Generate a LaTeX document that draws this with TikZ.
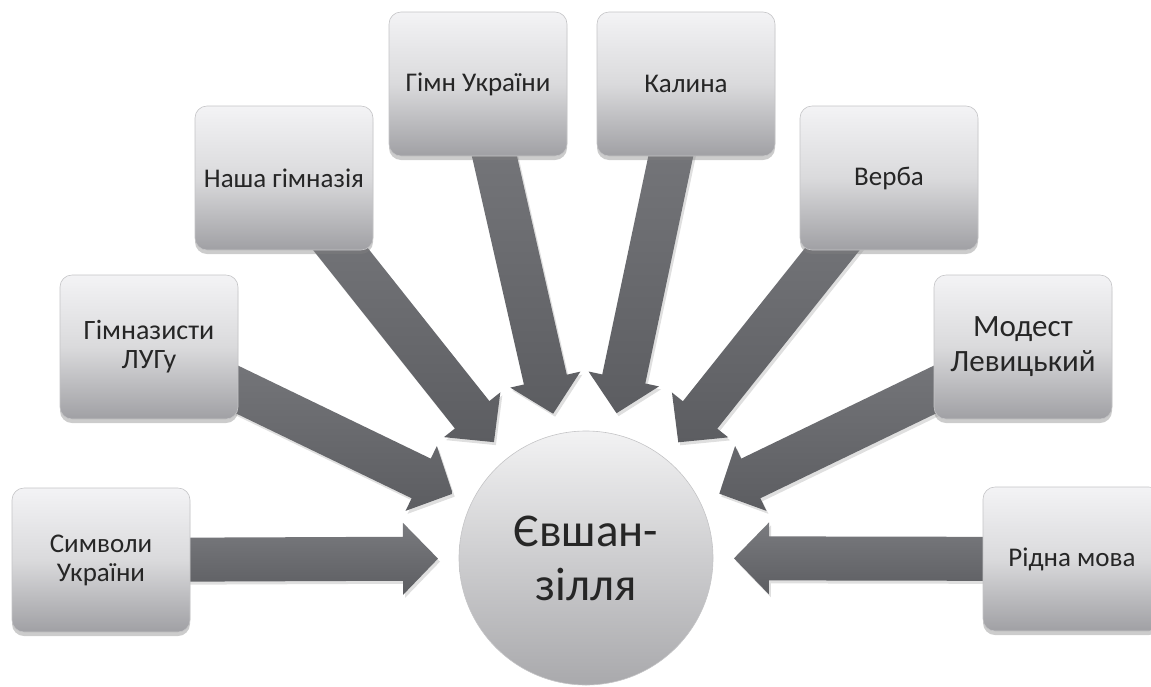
\documentclass[tikz,border=0pt]{standalone}
\usepackage{fontspec}
\setmainfont{Carlito}
\usetikzlibrary{calc,shadows,backgrounds}
\definecolor{boxtop}{HTML}{F3F3F5}
\definecolor{boxmid}{HTML}{DADADC}
\definecolor{boxbot}{HTML}{A0A0A4}
\definecolor{boxedge}{HTML}{C4C4C6}
\definecolor{hubtop}{HTML}{F2F2F3}
\definecolor{hubbot}{HTML}{A9A9AC}
\definecolor{arrtop}{HTML}{7A7B7F}
\definecolor{arrbot}{HTML}{5C5D61}
\definecolor{txt}{HTML}{262626}
\tikzset{
  box/.style={rounded corners=12pt, minimum width=178pt, minimum height=144pt,
    inner sep=2pt, align=center, font=\fontsize{27}{29}\selectfont, text=txt,
    top color=boxtop, bottom color=boxbot, middle color=boxmid,
    draw=boxedge, line width=0.6pt,
    drop shadow={opacity=0.4, shadow xshift=0pt, shadow yshift=-4pt}},
  hub/.style={circle, minimum size=254pt, inner sep=0pt, align=center,
    font=\fontsize{47}{54}\selectfont, text=txt,
    top color=hubtop, bottom color=hubbot, draw=boxedge, line width=0.6pt},
  arr/.style={top color=arrtop, bottom color=arrbot,
    drop shadow={opacity=0.25, shadow xshift=2pt, shadow yshift=-3pt}}
}
\newcommand\blockarr[2]{%
  \path[arr] ($(#1.center)!22pt!90:(#2.center)$)
    -- ($(#2.center)!183pt!(#1.center)!22pt!-90:(#1.center)$)
    -- ($(#2.center)!183pt!(#1.center)!36pt!-90:(#1.center)$)
    -- ($(#2.center)!148pt!(#1.center)$)
    -- ($(#2.center)!183pt!(#1.center)!36pt!90:(#1.center)$)
    -- ($(#2.center)!183pt!(#1.center)!22pt!90:(#1.center)$)
    -- ($(#1.center)!22pt!-90:(#2.center)$) -- cycle;}
\begin{document}
\begin{tikzpicture}[x=1pt,y=-1pt]
\useasboundingbox (0,0) rectangle (1151,686);
\node[hub] (hub) at (586,558) {Євшан-\\зілля};
\node[box] (b1) at (101,560) {Символи\\України};
\node[box,font=\fontsize{28}{29}\selectfont] (b2) at (149,347) {Гімназисти\\ЛУГу};
\node[box] (b3) at (284,178) {Наша гімназія};
\node[box] (b4) at (478,84) {Гімн України};
\node[box] (b5) at (686,84) {Калина};
\node[box] (b6) at (889,178) {Верба};
\node[box,font=\fontsize{31}{35}\selectfont] (b7) at (1023,347) {Модест\\Левицький};
\node[box] (b8) at (1072,559) {Рідна мова};
\begin{scope}[on background layer]
\foreach \b in {b1,b2,b3,b4,b5,b6,b7,b8}{\blockarr{\b}{hub}}
\end{scope}
\end{tikzpicture}
\end{document}
